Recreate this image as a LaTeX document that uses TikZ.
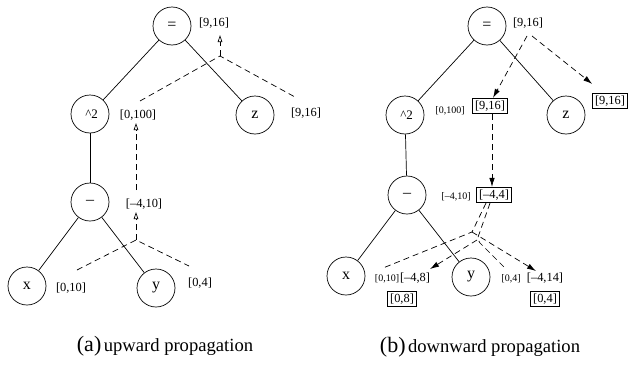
\documentclass[tikz,border=0pt]{standalone}
\usepackage{fontspec}
\setmainfont{Liberation Serif}
\usetikzlibrary{arrows.meta}

\begin{document}
\begin{tikzpicture}[x=1pt, y=-1pt, line width=0.7pt,
    op/.style={draw, circle, minimum size=38pt, inner sep=0pt, font=\fontsize{16}{18}\selectfont},
    lbl/.style={inner sep=1pt, font=\fontsize{12.4}{14}\selectfont},
    slbl/.style={inner sep=1pt, font=\fontsize{10}{12}\selectfont},
    bx/.style={draw, inner sep=2.5pt, font=\fontsize{12.4}{14}\selectfont},
    flow/.style={dash pattern=on 6pt off 4pt},
    up/.style={flow, -{Triangle[open, length=7pt, width=4.5pt]}},
    down/.style={flow, -{Latex[length=9pt, width=5.5pt]}}]
            \useasboundingbox (0, 0) rectangle (629, 367);
            %\draw[lightgray] (0, 0) grid[step=50] (629, 367);
            % (a) upward
            \node[op] (eqa) at (172, 26) {=};
            \node[op] (sqa) at (90, 114) {\fontsize{13}{14}\selectfont\ \textasciicircum 2};
            \node[op] (za) at (255, 115) {z};
            \node[op] (mia) at (90, 202) {--};
            \node[op] (xa) at (27, 286) {x};
            \node[op] (ya) at (156, 288) {y};
            \draw (eqa) -- (sqa);
            \draw (eqa) -- (za);
            \draw (sqa) -- (mia);
            \draw (mia) -- (xa);
            \draw (mia) -- (ya);
            \node[lbl] (la916) at (214, 23) {[9,16]};
            \node[lbl] (la100) at (138, 115) {[0,100]};
            \node[lbl] (la916z) at (306, 113) {[9,16]};
            \node[lbl] (la410) at (144, 204) {[--4,10]};
            \node[lbl] (la010) at (71, 288) {[0,10]};
            \node[lbl] (la04) at (200, 283) {[0,4]};
            \coordinate (ja1) at (220, 56);
            \coordinate (ja2) at (136, 240);
            \draw[flow] (140, 101) coordinate (fa100) -- (ja1) -- (295, 97) coordinate (fa916);
            \draw[up] (ja1) -- (220, 35) coordinate (ta916);
            \draw[up] (136, 190) coordinate (fa410) -- (136, 123) coordinate (ta100);
            \draw[flow] (77, 270) coordinate (fa010) -- (ja2) -- (189, 266) coordinate (fa04);
            \draw[up] (ja2) -- (136, 212) coordinate (ta410);
            \node (capa) at (165, 346) {{\fontsize{22}{24}\selectfont (a)} {\fontsize{18.6}{20}\selectfont upward propagation}};
            % (b) downward
            \node[op] (eqb) at (487, 26) {=};
            \node[op] (sqb) at (405, 115) {\fontsize{13}{14}\selectfont\ \textasciicircum 2};
            \node[op] (zb) at (566, 115) {z};
            \node[op] (mib) at (407, 195) {--};
            \node[op] (xb) at (346, 276) {x};
            \node[op] (yb) at (471, 277) {y};
            \draw (eqb) -- (sqb);
            \draw (eqb) -- (zb);
            \draw (sqb) -- (mib);
            \draw (mib) -- (xb);
            \draw (mib) -- (yb);
            \node[lbl] (lb916) at (528, 23) {[9,16]};
            \node[slbl] (lb100) at (450, 111) {[0,100]};
            \node[bx] (bb916) at (490, 106) {[9,16]};
            \node[bx] (bb916z) at (610, 101) {[9,16]};
            \node[slbl] (lb410) at (456, 197) {[--4,10]};
            \node[bx] (bb44) at (494, 195) {[--4,4]};
            \node[slbl] (lb010) at (387, 279) {[0,10]};
            \node[lbl] (lb48) at (415, 278) {[--4,8]};
            \node[bx] (bb08) at (402, 299) {[0,8]};
            \node[slbl] (lb04) at (511, 279) {[0,4]};
            \node[lbl] (lb414) at (545, 278) {[--4,14]};
            \node[bx] (bb04) at (545, 299) {[0,4]};
            \draw[down] (527, 36) coordinate (fb916a) -- ([xshift=3pt]bb916.north);
            \draw[down] (532, 36) coordinate (fb916b) -- ([yshift=9pt]bb916z.north west);
            \draw[down] ([xshift=2pt]bb916.south) -- ([xshift=-2pt]bb44.north);
            \coordinate (jb1) at (472, 232);
            \coordinate (jb2) at (477, 240);
            \draw[flow] ([xshift=-8pt]bb44.south) -- (jb1) -- (383, 268) coordinate (fb010);
            \draw[down] (jb1) -- (536, 271) coordinate (tb414);
            \draw[flow, rounded corners=4pt] ([xshift=-4pt]bb44.south) -- (jb2) -- (505, 268) coordinate (fb04);
            \draw[down] (jb2) -- (430, 269) coordinate (tb48);
            \node (capb) at (480, 347) {{\fontsize{22}{24}\selectfont (b)} {\fontsize{18.6}{20}\selectfont downward propagation}};
        \end{tikzpicture}
\end{document}
